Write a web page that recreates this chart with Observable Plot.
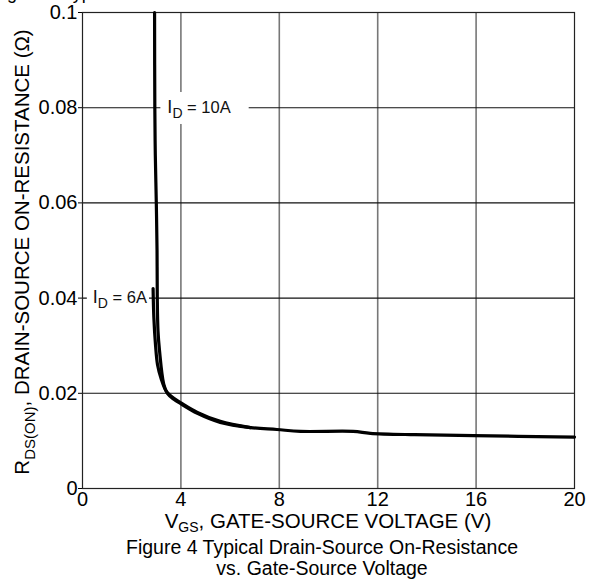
<!DOCTYPE html>
<html>
<head>
<meta charset="utf-8">
<script src="https://cdn.jsdelivr.net/npm/d3@7"></script>
<script src="https://cdn.jsdelivr.net/npm/@observablehq/plot@0.6"></script>
<style>
  html, body { margin: 0; padding: 0; background: white; }
  #chart { width: 597px; height: 580px; overflow: hidden; }
</style>
</head>
<body>
<div id="chart"></div>
<script>
// ---- Data ----
const vgs10 = [2.93, 2.94, 2.96, 3.0, 3.03, 3.04, 3.07, 3.13, 3.3, 3.45, 3.7, 4.0, 4.67, 5.6, 6.83, 7.9, 8.86, 11.0, 11.7, 13.5, 15.9, 20];
const rds10 = [0.1, 0.08, 0.07, 0.06, 0.05, 0.04, 0.033, 0.029, 0.022, 0.0200, 0.0188, 0.0178, 0.0158, 0.0139, 0.0128, 0.0124, 0.0120, 0.0120, 0.0116, 0.0113, 0.0111, 0.0108];
const vgs6 = [2.87, 2.9, 2.97, 3.05, 3.2, 3.4, 3.7, 4.0, 4.67, 5.6, 6.83];
const rds6 = [0.042, 0.036, 0.030, 0.026, 0.023, 0.0205, 0.0190, 0.0180, 0.0160, 0.0141, 0.0128];

const xTicks = [0, 4, 8, 12, 16, 20];
const yTicks = [0, 0.02, 0.04, 0.06, 0.08, 0.1];
const yTickLabels = ["0", "0.02", "0.04", "0.06", "0.08", "0.1"];

const labelMain = ["I", "I"];
const labelSub = ["D", "D"];
const labelRest = [" = 10A", " = 6A"];
const labelX = [3.45, 0.42];
const labelY = [0.08, 0.04];

const xLabelMain = "V", xLabelSub = "GS", xLabelRest = ", GATE-SOURCE VOLTAGE (V)";
const yLabelMain = "R", yLabelSub = "DS(ON)", yLabelRest = ", DRAIN-SOURCE ON-RESISTANCE (\u03A9)";
const captionLines = ["Figure 4 Typical Drain-Source On-Resistance", "vs. Gate-Source Voltage"];
const topClipped = "Figure 3 Typical Transfer Characteristics";

// ---- Build tables ----
const curve10 = vgs10.map((v, i) => ({x: v, y: rds10[i]}));
const curve6 = vgs6.map((v, i) => ({x: v, y: rds6[i]}));
const labels = labelMain.map((m, i) => ({main: m, sub: labelSub[i], rest: labelRest[i], x: labelX[i], y: labelY[i]}));

const font = "'Liberation Sans', Arial, Helvetica, sans-serif";

const chart = Plot.plot({
  width: 597,
  height: 580,
  marginTop: 12,
  marginBottom: 92,
  marginLeft: 82,
  marginRight: 23,
  style: {fontFamily: font, background: "white", color: "black", overflow: "hidden"},
  x: {domain: [0, 20]},
  y: {domain: [0, 0.1]},
  marks: [
    Plot.ruleX(xTicks.slice(1, -1), {stroke: "#777", strokeWidth: 1.6}),
    Plot.ruleY(yTicks.slice(1, -1), {stroke: "#111", strokeWidth: 1.1}),
    Plot.axisY({ticks: yTicks, tickSize: 4, tickPadding: 1, fontSize: 20, label: null,
      tickFormat: d => yTickLabels[yTicks.indexOf(d)]}),
    Plot.axisX({ticks: xTicks, tickSize: 0, tickPadding: 3, fontSize: 20, label: null,
      tickFormat: d => String(d)}),
    Plot.text(labels, {x: "x", y: "y", text: d => d.main + d.sub + d.rest, textAnchor: "start",
      fontSize: 16.5, fill: "#111"}),
    Plot.frame({stroke: "#222", strokeWidth: 1.2}),
    Plot.line(curve6, {x: "x", y: "y", stroke: "black", strokeWidth: 3.2, curve: "catmull-rom"}),
    Plot.line(curve10, {x: "x", y: "y", stroke: "black", strokeWidth: 3.2, curve: "catmull-rom"})
  ]
});

document.getElementById("chart").appendChild(chart);

const svg = d3.select(chart);

// Subscripted labels with white background boxes
svg.selectAll("g[aria-label='text'] text").each(function(d, i) {
  const t = d3.select(this);
  const L = labels[i];
  t.text(null);
  t.append("tspan").text(L.main).attr("font-size", 18);
  t.append("tspan").text(L.sub).attr("dy", 5).attr("font-size", 14);
  t.append("tspan").text(L.rest).attr("dy", -5);
  const bb = this.getBBox();
  const padL = i === 0 ? 7 : 6, padR = i === 0 ? 18 : 2;
  d3.select(this.parentNode)
    .insert("rect", function() { return this.firstChild; })
    .attr("x", bb.x - padL).attr("y", bb.y - 5)
    .attr("width", bb.width + padL + padR).attr("height", bb.height + 8)
    .attr("fill", "white")
    .attr("transform", t.attr("transform"));
});

// Axis labels and caption
const xl = svg.append("text").attr("x", 328).attr("y", 528).attr("text-anchor", "middle")
  .attr("font-size", 20.5).attr("font-family", font).attr("fill", "black");
xl.append("tspan").text(xLabelMain);
xl.append("tspan").text(xLabelSub).attr("dy", 4).attr("font-size", 14);
xl.append("tspan").text(xLabelRest).attr("dy", -4);

const yl = svg.append("text").attr("transform", "translate(29,252) rotate(-90)").attr("text-anchor", "middle")
  .attr("font-size", 20.5).attr("font-family", font).attr("fill", "black");
yl.append("tspan").text(yLabelMain);
yl.append("tspan").text(yLabelSub).attr("dy", 6).attr("font-size", 15);
yl.append("tspan").text(yLabelRest).attr("dy", -6);

captionLines.forEach((c, i) => {
  svg.append("text").attr("x", 322).attr("y", 554 + i * 21).attr("text-anchor", "middle")
    .attr("font-size", 19.5).attr("font-family", font).attr("fill", "black").text(c);
});

svg.append("text").attr("x", 153).attr("y", -1).attr("font-size", 18)
  .attr("font-family", font).attr("fill", "black").text(topClipped);
</script>
</body>
</html>
